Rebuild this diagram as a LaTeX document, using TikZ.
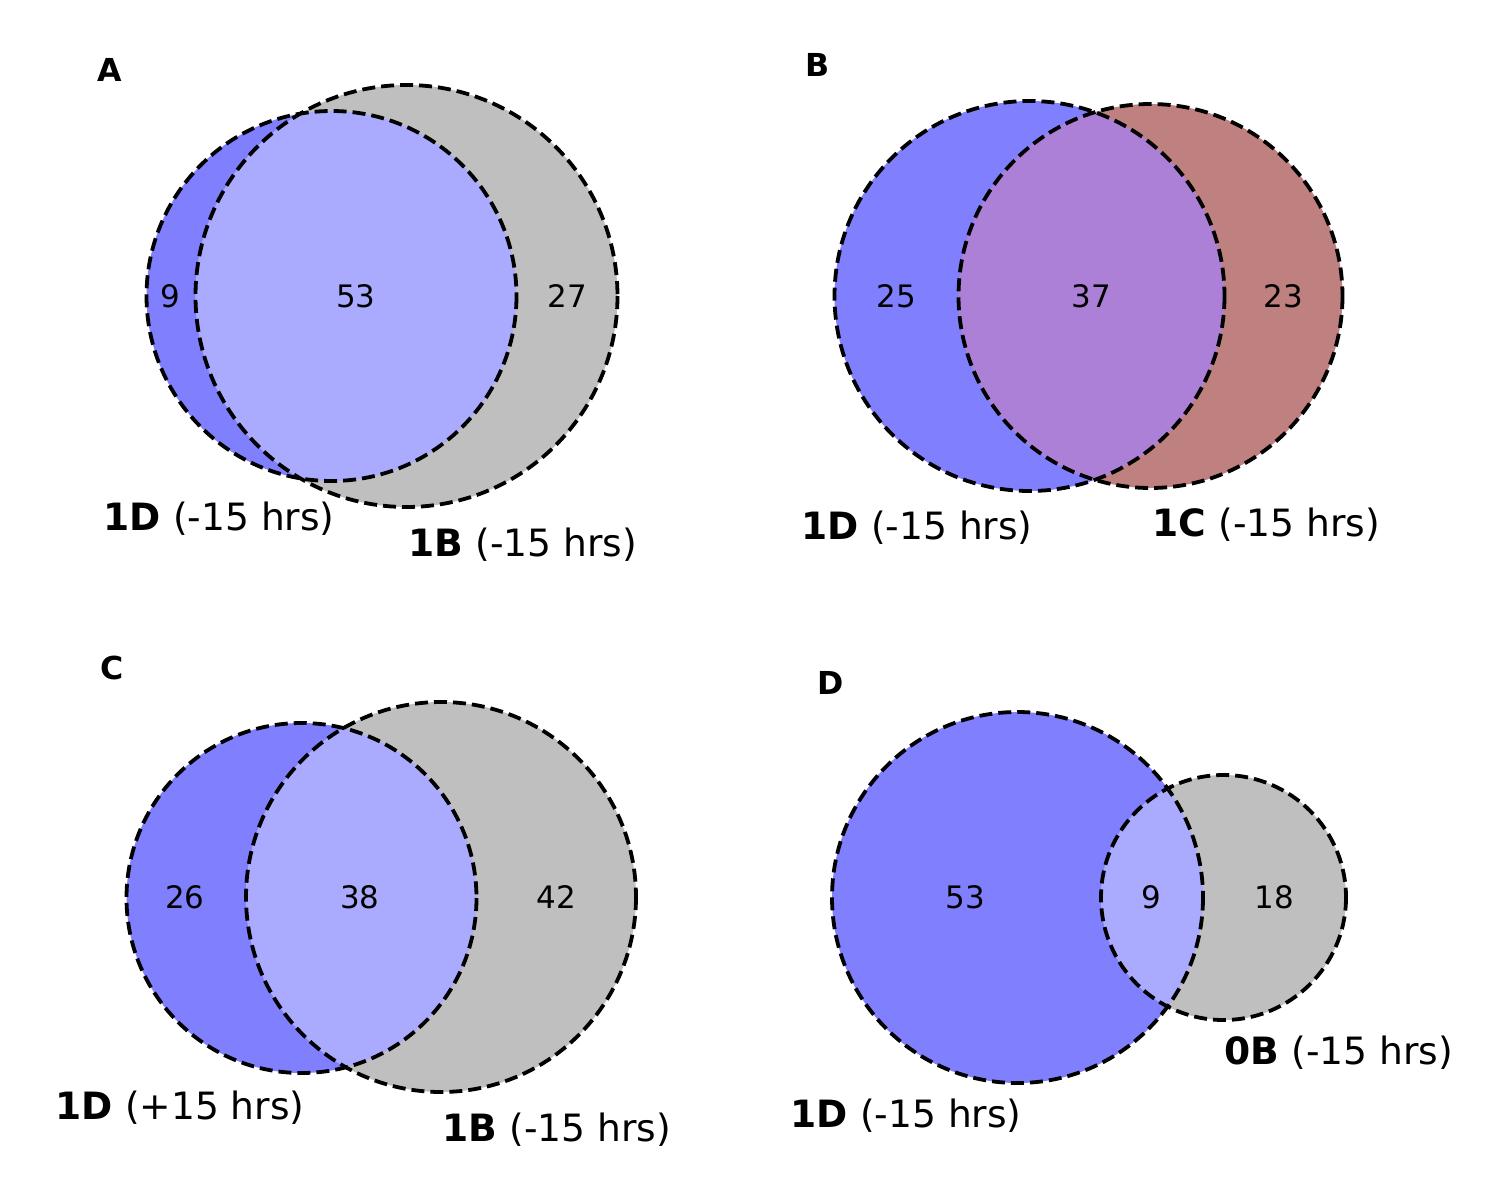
\documentclass[tikz,border=0pt]{standalone}
\usepackage{fontspec}
\setmainfont{DejaVu Sans}
\definecolor{cblue}{HTML}{8080FF}
\definecolor{cover}{HTML}{AAAAFF}
\definecolor{cgray}{HTML}{BFBFBF}
\definecolor{cred}{HTML}{BF8080}
\definecolor{cpurp}{HTML}{AC80D6}
\tikzset{
  edge/.style={draw=black,line width=0.38mm,dash pattern=on 1.3mm off 0.6mm},
  num/.style={inner sep=0pt,font=\fontsize{8.8}{10}\selectfont},
  setlab/.style={inner sep=0pt,anchor=west,font=\fontsize{10.7}{12}\selectfont},
  panel/.style={inner sep=0pt,font=\fontsize{9}{10}\selectfont\bfseries},
}
\begin{document}
\begin{tikzpicture}[x=0.1mm,y=-0.1mm]
\useasboundingbox[fill=white] (0,0) rectangle (1500,1200);
% ---------- A ----------
\fill[cblue] (331.5,296) circle[radius=185];
\fill[cgray] (406.5,296) circle[radius=211];
\begin{scope}
\clip (331.5,296) circle[radius=185];
\fill[cover] (406.5,296) circle[radius=211];
\end{scope}
\draw[edge] (331.5,296) circle[radius=185];
\draw[edge] (406.5,296) circle[radius=211];
\node[panel] (pA) at (110,70) {A};
\node[num] (a1) at (170,296) {9};
\node[num] (a2) at (356,296) {53};
\node[num] (a3) at (567,296) {27};
\node[setlab] (la) at (103,519) {\textbf{1D} (-15 hrs)};
\node[setlab] (lb) at (408,545) {\textbf{1B} (-15 hrs)};
% ---------- B ----------
\fill[cblue] (1029.5,296) circle[radius=195];
\fill[cred] (1150.5,296) circle[radius=192];
\begin{scope}
\clip (1029.5,296) circle[radius=195];
\fill[cpurp] (1150.5,296) circle[radius=192];
\end{scope}
\draw[edge] (1029.5,296) circle[radius=195];
\draw[edge] (1150.5,296) circle[radius=192];
\node[panel] (pB) at (818,65) {B};
\node[num] (b1) at (896,296) {25};
\node[num] (b2) at (1091,296) {37};
\node[num] (b3) at (1283,296) {23};
\node[setlab] (lc) at (801,528) {\textbf{1D} (-15 hrs)};
\node[setlab] (ld) at (1152,525) {\textbf{1C} (-15 hrs)};
% ---------- C ----------
\fill[cblue] (301.5,898) circle[radius=175];
\fill[cgray] (441,897) circle[radius=195];
\begin{scope}
\clip (301.5,898) circle[radius=175];
\fill[cover] (441,897) circle[radius=195];
\end{scope}
\draw[edge] (301.5,898) circle[radius=175];
\draw[edge] (441,897) circle[radius=195];
\node[panel] (pC) at (112,668) {C};
\node[num] (c1) at (185,897) {26};
\node[num] (c2) at (360,897) {38};
\node[num] (c3) at (556,897) {42};
\node[setlab] (le) at (55,1108) {\textbf{1D} (+15 hrs)};
\node[setlab] (lf) at (442,1130) {\textbf{1B} (-15 hrs)};
% ---------- D ----------
\fill[cblue] (1017.5,897.5) circle[radius=185.5];
\fill[cgray] (1223.5,897.5) circle[radius=122.5];
\begin{scope}
\clip (1017.5,897.5) circle[radius=185.5];
\fill[cover] (1223.5,897.5) circle[radius=122.5];
\end{scope}
\draw[edge] (1017.5,897.5) circle[radius=185.5];
\draw[edge] (1223.5,897.5) circle[radius=122.5];
\node[panel] (pD) at (831,683) {D};
\node[num] (d1) at (965,897) {53};
\node[num] (d2) at (1151,897) {9};
\node[num] (d3) at (1274,897) {18};
\node[setlab] (lg) at (1224,1053) {\textbf{0B} (-15 hrs)};
\node[setlab] (lh) at (790,1116) {\textbf{1D} (-15 hrs)};
\end{tikzpicture}
\end{document}
